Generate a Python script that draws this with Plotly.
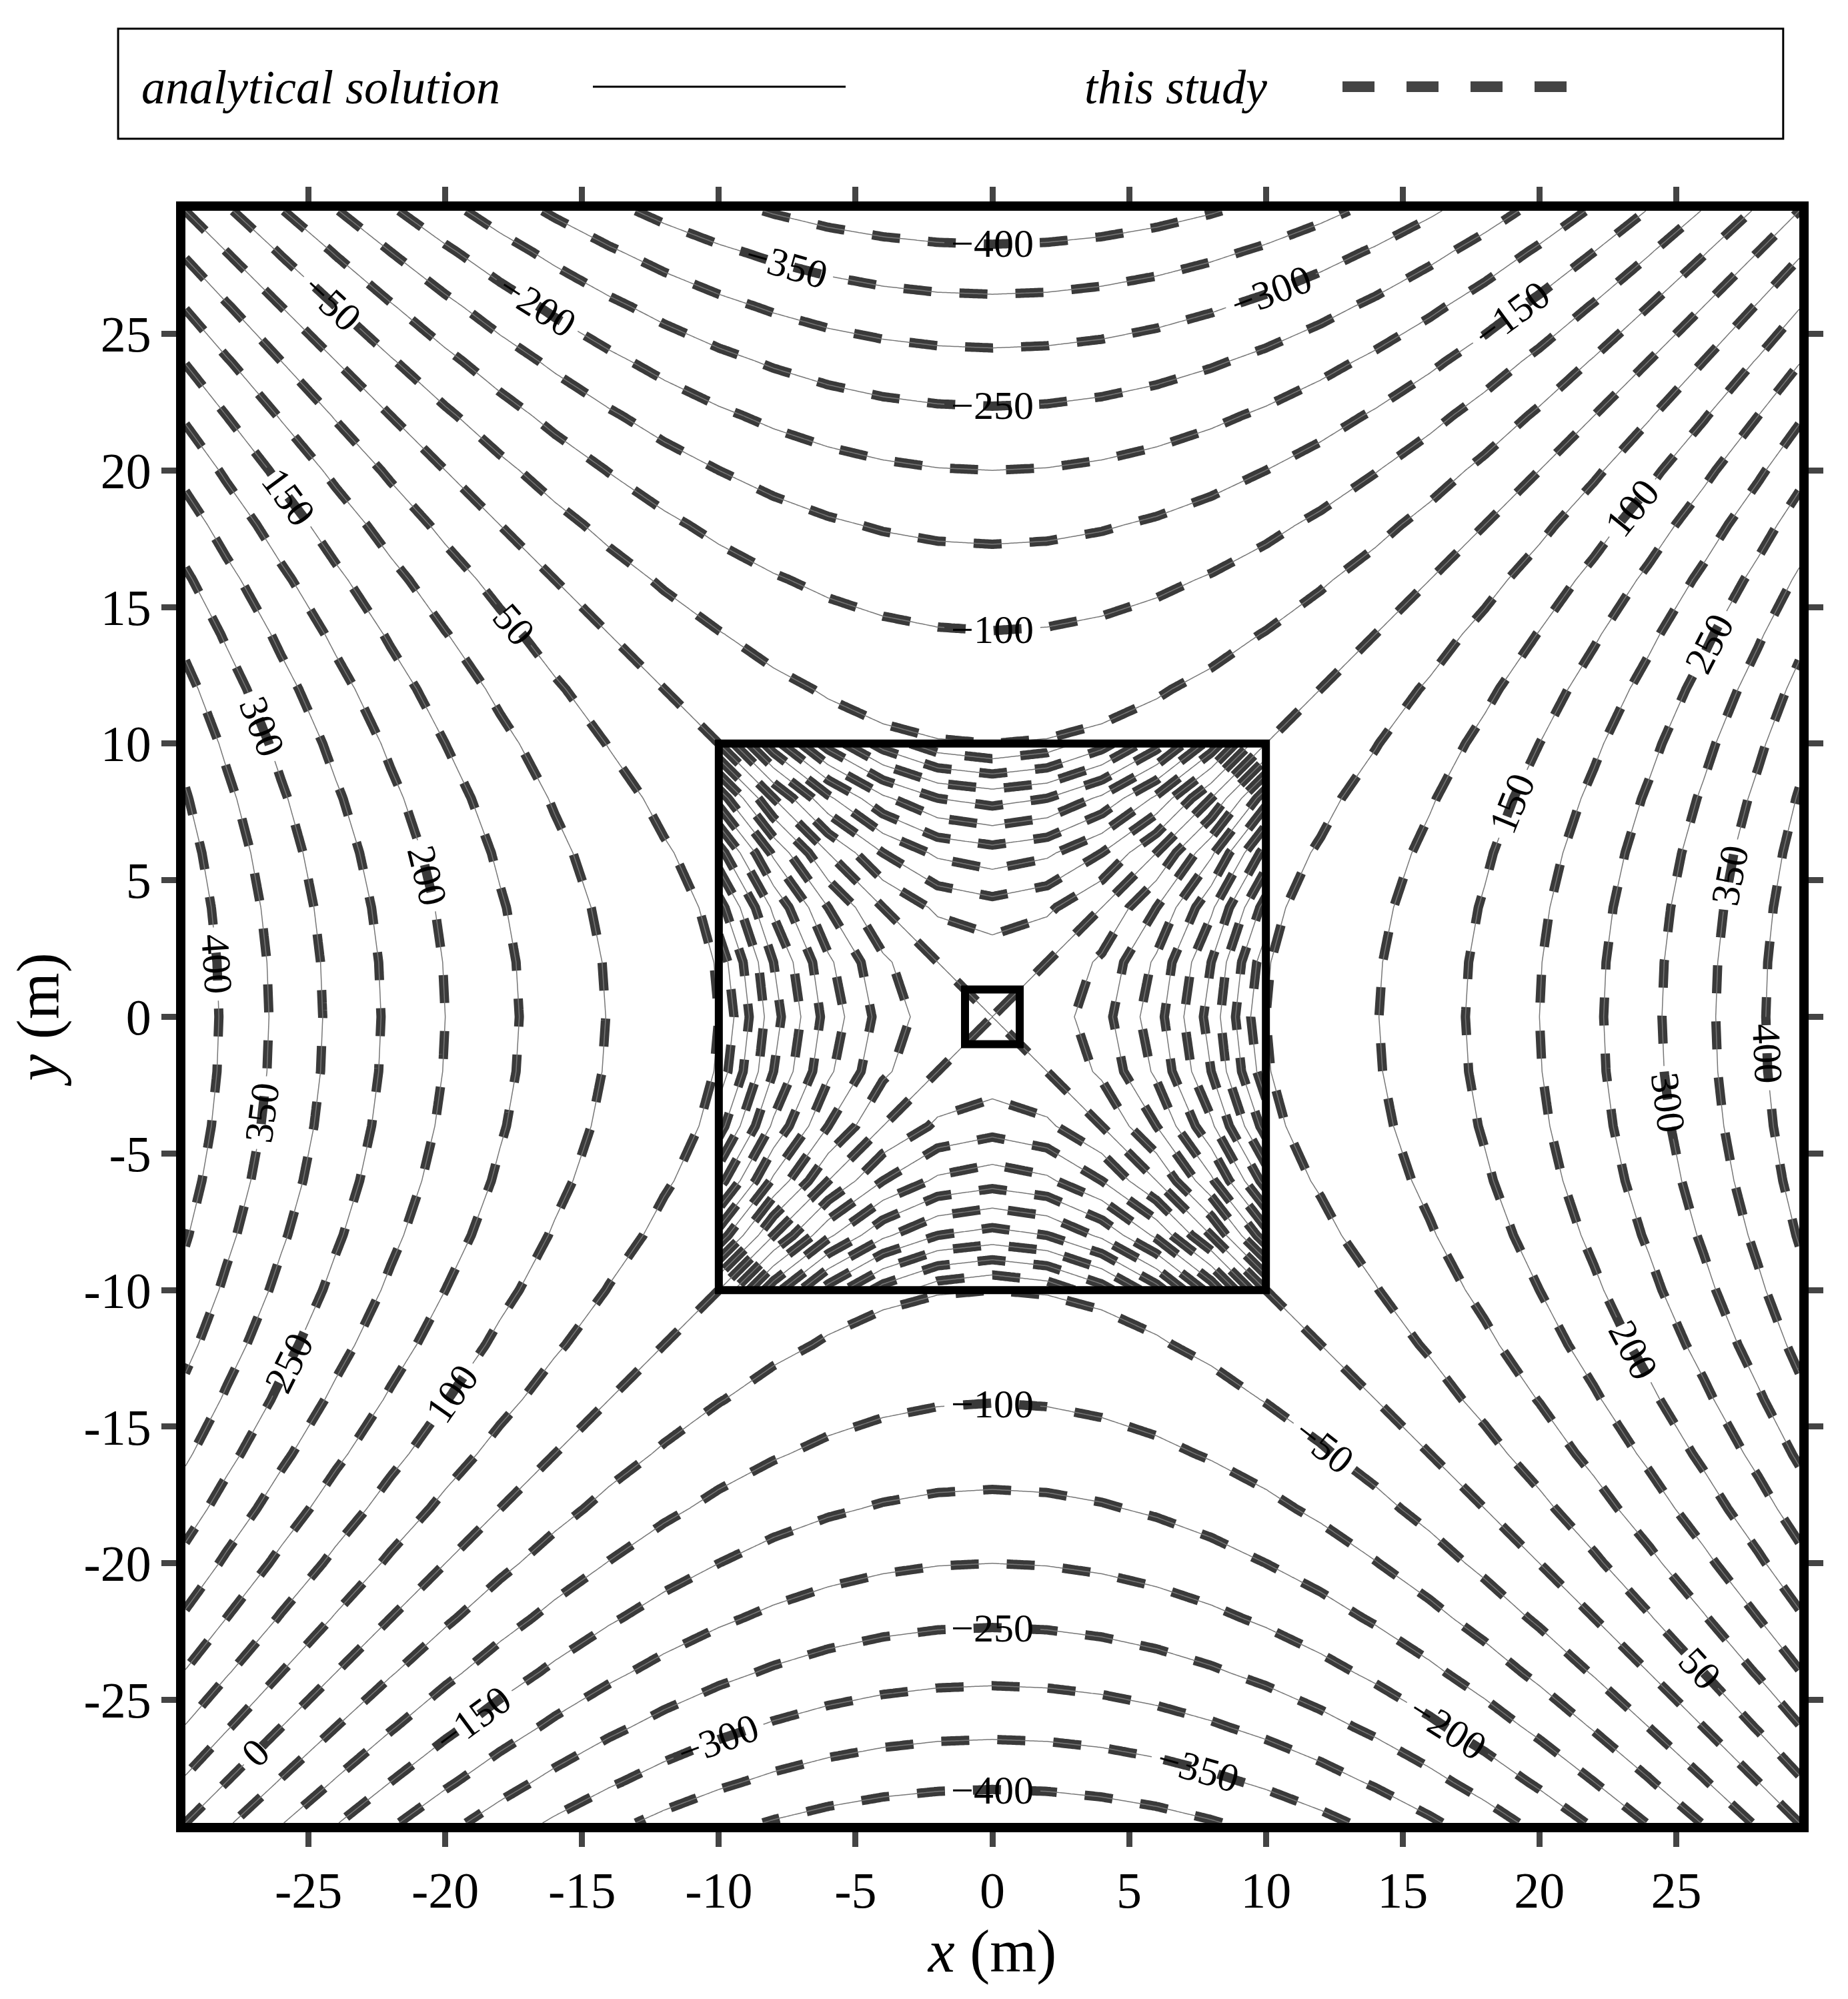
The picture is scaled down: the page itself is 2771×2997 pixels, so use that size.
import numpy as np
import plotly.graph_objects as go

# Potential read along the axes (distance from centre, m) -> value
axis_pos = [0, 2, 4, 6, 8, 10, 12, 14, 16, 18, 20, 22, 24, 26, 28, 30]
axis_val = [0, 2, 8, 18, 32, 50, 72, 98, 128, 162, 200, 242, 288, 338, 392, 450]
x_ticks = [-25, -20, -15, -10, -5, 0, 5, 10, 15, 20, 25]
tick_text = ["-25", "-20", "-15", "-10", "-5", "0", "5", "10", "15", "20", "25"]
outer_step = 50
inner_step = 5
inner_half = 10
hole_half = 1

g = np.linspace(-29.5, 29.5, 473)
hx = np.interp(np.abs(g), axis_pos, axis_val)
Z = hx[None, :] - hx[:, None]
X, Y = np.meshgrid(g, g)
inside = (np.abs(X) < inner_half) & (np.abs(Y) < inner_half)
Zo = np.where(inside, np.nan, Z)
gi = np.linspace(-inner_half, inner_half, 241)
hi = np.interp(np.abs(gi), axis_pos, axis_val)
Zi = hi[None, :] - hi[:, None]

fig = go.Figure()
def add(xg, z, step, lo, hi_, dashed, labels):
    fig.add_trace(go.Contour(
        x=xg, y=xg, z=z, autocontour=False,
        contours=dict(start=lo, end=hi_, size=step, coloring="lines",
                      showlabels=labels,
                      labelfont=dict(size=60, color="black", family="Liberation Serif")),
        colorscale=[[0, "#3a3a3a"], [1, "#3a3a3a"]] if dashed else [[0, "#777"], [1, "#777"]],
        line=dict(width=14 if dashed else 1.5, dash="dash" if dashed else "solid"),
        showscale=False, hoverinfo="skip"))

add(g, Zo, outer_step, -450, 450, True, False)
add(g, Zo, outer_step, -450, 450, False, True)
add(gi, Zi, inner_step, -50, 50, True, False)
add(gi, Zi, inner_step, -50, 50, False, False)

for h, w in [(inner_half, 12), (hole_half, 12)]:
    fig.add_shape(type="rect", x0=-h, x1=h, y0=-h, y1=h, line=dict(color="black", width=w))

fig.add_shape(type="rect", xref="paper", yref="paper", x0=-0.0417, x1=0.99, y0=1.0447, y1=1.113,
              line=dict(color="black", width=3))
ty = 1.094
fig.add_annotation(xref="paper", yref="paper", x=(202-270)/2420, y=ty, xanchor="left",
                   text="<i>analytical solution</i>", showarrow=False,
                   font=dict(size=72, family="Liberation Serif", color="black"))
fig.add_shape(type="line", xref="paper", yref="paper", x0=(881-270)/2420, x1=(1260-270)/2420,
              y0=1.077, y1=1.077, line=dict(color="black", width=3))
fig.add_annotation(xref="paper", yref="paper", x=(1616-270)/2420, y=ty, xanchor="left",
                   text="<i>this study</i>", showarrow=False,
                   font=dict(size=72, family="Liberation Serif", color="black"))
fig.add_shape(type="line", xref="paper", yref="paper", x0=(2005-270)/2420, x1=(2386-270)/2420,
              y0=1.077, y1=1.077, line=dict(color="#444", width=16, dash="dash"))

ax = dict(range=[-29.5, 29.5], tickvals=x_ticks, ticktext=tick_text, ticks="outside", ticklen=22, tickwidth=9,
          mirror="allticks", showline=True, linewidth=14, linecolor="black",
          showgrid=False, zeroline=False,
          tickfont=dict(size=76, family="Liberation Serif", color="black"))
fig.update_layout(
    width=2771, height=2997, plot_bgcolor="white", paper_bgcolor="white",
    margin=dict(l=270, r=81, t=308, b=272),
    xaxis=dict(ax, title=dict(text="<i>x</i> (m)", font=dict(size=90, family="Liberation Serif", color="black"), standoff=20)),
    yaxis=dict(ax, title=dict(text="<i>y</i> (m)", font=dict(size=90, family="Liberation Serif", color="black"), standoff=20)),
    showlegend=False)
fig.write_html("out.html")
